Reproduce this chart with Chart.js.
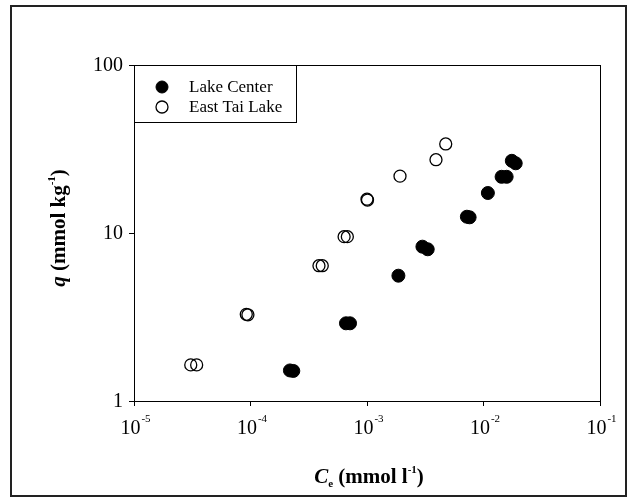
<!DOCTYPE html>
<html lang="en">
<head>
  <meta charset="UTF-8" />
  <title>Sorption isotherms</title>
  <script src="https://cdn.jsdelivr.net/npm/chart.js"></script>
  <style>
    body { margin: 0; background: #fff; }
    #wrap { width: 631px; height: 498px; }
  </style>
</head>
<body>
  <div id="wrap"><canvas id="isoChart" width="631" height="498"></canvas></div>

  <script>
    // values (Ce in mmol/l, q in mmol/kg)
    const lakeCenterCe = [2.18e-4, 2.33e-4, 6.6e-4, 7.15e-4, 1.86e-3, 2.99e-3, 3.32e-3, 7.2e-3, 7.6e-3, 1.09e-2, 1.43e-2, 1.58e-2, 1.75e-2, 1.89e-2];
    const lakeCenterQ  = [1.52, 1.51, 2.9, 2.9, 5.57, 8.29, 8.0, 12.5, 12.4, 17.3, 21.6, 21.6, 26.9, 26.0];
    const eastTaiCe = [3.07e-5, 3.45e-5, 9.2e-5, 9.5e-5, 3.87e-4, 4.13e-4, 6.36e-4, 6.78e-4, 1.0e-3, 1.01e-3, 1.92e-3, 3.91e-3, 4.74e-3];
    const eastTaiQ  = [1.64, 1.64, 3.28, 3.26, 6.39, 6.39, 9.51, 9.51, 15.9, 15.7, 21.8, 27.3, 33.9];
    const xTickExp = [-5, -4, -3, -2, -1];
    const yTickVals = [1, 10, 100];

    const serif = "'Liberation Serif', 'Times New Roman', serif";

    function toPoints(xs, ys) {
      return xs.map((x, i) => ({ x: x, y: ys[i] }));
    }

    function keepDecades(scale) {
      scale.ticks = scale.ticks.filter(t => {
        const l = Math.log10(t.value);
        return Math.abs(l - Math.round(l)) < 1e-6;
      });
    }

    // draws text pieces (normal, sub, superscript) centred on cx
    function drawParts(ctx, parts, cx, base) {
      let total = 0;
      parts.forEach(p => { ctx.font = p.f; total += ctx.measureText(p.t).width; });
      let x = cx - total / 2;
      ctx.textAlign = 'left';
      ctx.textBaseline = 'alphabetic';
      parts.forEach(p => {
        ctx.font = p.f;
        ctx.fillText(p.t, x, base + p.dy);
        x += ctx.measureText(p.t).width;
      });
    }

    // frame, tick labels, titles and the legend box
    const decor = {
      id: 'decor',
      afterDraw(chart) {
        const ctx = chart.ctx;
        const a = chart.chartArea;
        const xs = chart.scales.x, ys = chart.scales.y;
        ctx.save();

        // outer frame
        ctx.strokeStyle = '#222';
        ctx.lineWidth = 2;
        ctx.strokeRect(11, 6, 615, 490);

        // plot box
        ctx.strokeStyle = '#000';
        ctx.lineWidth = 1;
        ctx.strokeRect(Math.round(a.left) + 0.5, Math.round(a.top) + 0.5, Math.round(a.right - a.left), Math.round(a.bottom - a.top));

        ctx.fillStyle = '#000';
        // y tick labels
        ctx.font = '20px ' + serif;
        ctx.textAlign = 'right';
        ctx.textBaseline = 'middle';
        yTickVals.forEach(v => {
          ctx.fillText(String(v), a.left - 11, ys.getPixelForValue(v) + 1);
        });

        // x tick labels 10^n
        ctx.textBaseline = 'alphabetic';
        xTickExp.forEach(e => {
          const px = xs.getPixelForValue(Math.pow(10, e));
          ctx.font = '20px ' + serif;
          const w1 = ctx.measureText('10').width;
          ctx.font = '11px ' + serif;
          const sup = String(e);
          const w2 = ctx.measureText(sup).width;
          const start = px - (w1 + w2) / 2 + 1;
          ctx.textAlign = 'left';
          ctx.font = '20px ' + serif;
          ctx.fillText('10', start, 434);
          ctx.font = '11px ' + serif;
          ctx.fillText(sup, start + w1 + 1, 422);
        });

        // x title: C_e (mmol l^-1)
        drawParts(ctx, [
          { t: 'C', f: 'italic bold 21px ' + serif, dy: 0 },
          { t: 'e', f: 'bold 11px ' + serif, dy: 4 },
          { t: ' (mmol l', f: 'bold 21px ' + serif, dy: 0 },
          { t: '-1', f: 'bold 11px ' + serif, dy: -10 },
          { t: ')', f: 'bold 21px ' + serif, dy: 0 }
        ], (a.left + a.right) / 2 + 2, 483);

        // y title: q (mmol kg^-1), rotated
        ctx.translate(65, 228);
        ctx.rotate(-Math.PI / 2);
        drawParts(ctx, [
          { t: 'q', f: 'italic bold 21px ' + serif, dy: 0 },
          { t: ' (mmol kg', f: 'bold 21px ' + serif, dy: 0 },
          { t: '-1', f: 'bold 11px ' + serif, dy: -10 },
          { t: ')', f: 'bold 21px ' + serif, dy: 0 }
        ], 0, 0);
        ctx.setTransform(1, 0, 0, 1, 0, 0);

        // legend
        const lx = a.left, ly = a.top;
        ctx.fillStyle = '#fff';
        ctx.fillRect(lx + 0.5, ly + 0.5, 162, 57);
        ctx.strokeStyle = '#000';
        ctx.lineWidth = 1;
        ctx.strokeRect(lx + 0.5, ly + 0.5, 162, 57);
        chart.data.datasets.forEach((ds, i) => {
          const cy = ly + 22 + i * 20;
          ctx.beginPath();
          ctx.arc(lx + 28, cy, 6, 0, Math.PI * 2);
          ctx.fillStyle = ds.pointBackgroundColor === 'transparent' ? '#fff' : ds.pointBackgroundColor;
          ctx.fill();
          ctx.lineWidth = ds.pointBorderWidth;
          ctx.strokeStyle = '#000';
          ctx.stroke();
          ctx.fillStyle = '#000';
          ctx.font = '17px ' + serif;
          ctx.textAlign = 'left';
          ctx.textBaseline = 'middle';
          ctx.fillText(ds.label, lx + 55, cy + 1);
        });
        ctx.restore();
      }
    };

    new Chart(document.getElementById('isoChart'), {
      type: 'scatter',
      data: {
        datasets: [
          {
            label: 'Lake Center',
            data: toPoints(lakeCenterCe, lakeCenterQ),
            pointStyle: 'circle',
            pointRadius: 6.5,
            pointBackgroundColor: '#000',
            pointBorderColor: '#000',
            pointBorderWidth: 1
          },
          {
            label: 'East Tai Lake',
            data: toPoints(eastTaiCe, eastTaiQ),
            pointStyle: 'circle',
            pointRadius: 6,
            pointBackgroundColor: 'transparent',
            pointBorderColor: '#000',
            pointBorderWidth: 1.3
          }
        ]
      },
      options: {
        responsive: false,
        animation: false,
        layout: { padding: { left: 0, top: 65, right: 31, bottom: 0 } },
        plugins: { legend: { display: false }, tooltip: { enabled: false } },
        scales: {
          x: {
            type: 'logarithmic',
            min: 1e-5,
            max: 1e-1,
            afterBuildTicks: keepDecades,
            afterFit: s => { s.height = 97; },
            ticks: { display: false },
            border: { display: false },
            grid: { drawOnChartArea: false, drawTicks: true, tickLength: 5, color: '#000' }
          },
          y: {
            type: 'logarithmic',
            min: 1,
            max: 100,
            afterBuildTicks: keepDecades,
            afterFit: s => { s.width = 134; },
            ticks: { display: false },
            border: { display: false },
            grid: { drawOnChartArea: false, drawTicks: true, tickLength: 5, color: '#000' }
          }
        }
      },
      plugins: [decor]
    });
  </script>
</body>
</html>
